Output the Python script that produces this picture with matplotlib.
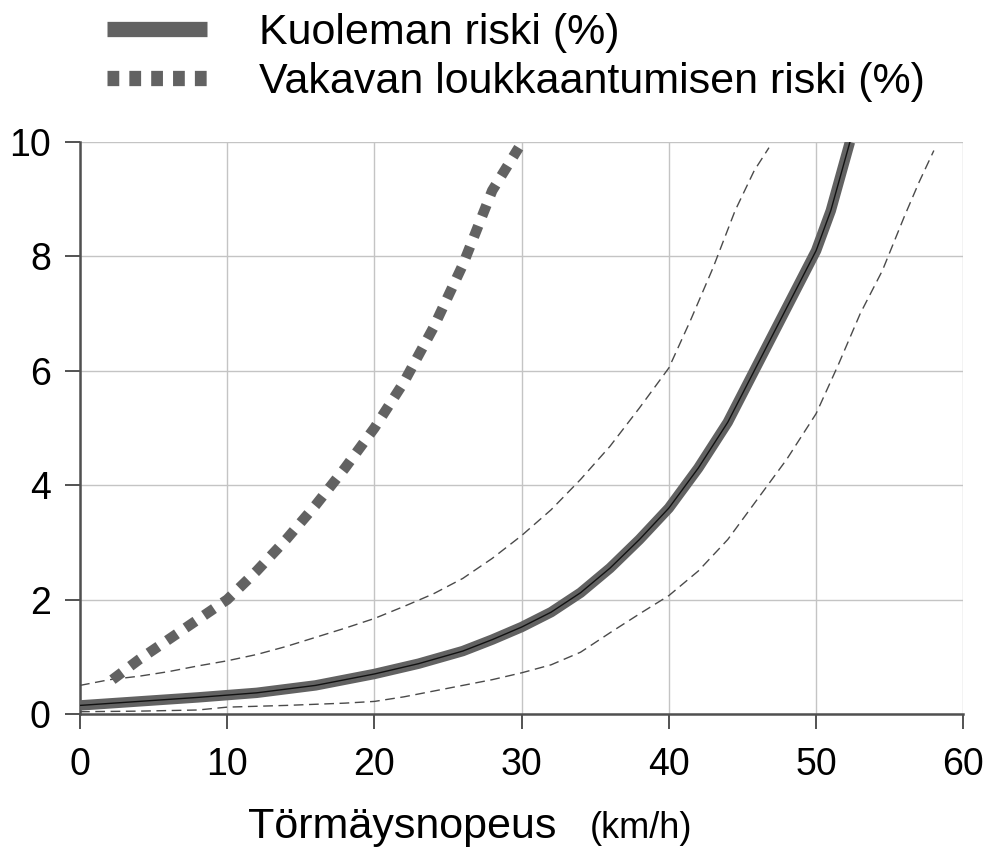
import matplotlib
matplotlib.use("Agg")
import matplotlib.pyplot as plt
from matplotlib.lines import Line2D

plt.rcParams["font.family"] = ["Liberation Sans", "DejaVu Sans"]

# Törmäysnopeus (km/h) ja riskit (%)
death_x = [0, 4, 8, 12, 16, 20, 23, 26, 28, 30, 32, 34, 36, 38, 40, 42, 44, 46, 48, 49, 50, 51, 52.3]
death_y = [0.15, 0.22, 0.29, 0.37, 0.5, 0.7, 0.88, 1.1, 1.3, 1.52, 1.78, 2.12, 2.55, 3.05, 3.6,
           4.3, 5.1, 6.1, 7.1, 7.6, 8.1, 8.8, 10.0]

death_hi_x = [0, 2, 4, 6, 8, 10, 12, 14, 16, 18, 20, 22, 24, 26, 28, 30, 32, 34, 36, 38, 40,
              41.5, 43, 44.5, 45.8, 46.8]
death_hi_y = [0.5, 0.6, 0.66, 0.74, 0.84, 0.93, 1.04, 1.18, 1.34, 1.5, 1.67, 1.88, 2.1, 2.37,
              2.72, 3.12, 3.57, 4.1, 4.68, 5.35, 6.05, 6.9, 7.8, 8.8, 9.5, 9.9]

death_lo_x = [0, 4, 8, 10, 14, 18, 20, 22, 24, 26, 28, 30, 32, 34, 36, 38, 40, 42, 44, 46, 48,
              50, 51.5, 53, 54.5, 56, 57, 58]
death_lo_y = [0.04, 0.05, 0.07, 0.12, 0.15, 0.19, 0.22, 0.3, 0.4, 0.5, 0.6, 0.72, 0.86, 1.08,
              1.42, 1.75, 2.07, 2.5, 3.05, 3.75, 4.45, 5.25, 6.1, 7.0, 7.75, 8.7, 9.3, 9.85]

injury_x = [2.2, 4, 6, 8, 10, 12, 14, 16, 18, 20, 22, 24, 26, 28, 29.8]
injury_y = [0.6, 0.95, 1.3, 1.65, 2.0, 2.5, 3.05, 3.65, 4.3, 5.0, 5.8, 6.75, 7.85, 9.15, 9.9]

x_ticks = [0, 10, 20, 30, 40, 50, 60]
y_ticks = [0, 2, 4, 6, 8, 10]
labels = ["Kuoleman riski (%)", "Vakavan loukkaantumisen riski (%)"]

gray = "#626262"

fig = plt.figure(figsize=(9.88, 8.5), dpi=100)
ax = fig.add_axes([0.081, 0.16, 0.894, 0.673])

# luottamusvälit ohuina katkoviivoina
for xs, ys in ((death_hi_x, death_hi_y), (death_lo_x, death_lo_y)):
    ax.plot(xs, ys, color="#4a4a4a", linewidth=1.0, dashes=(7, 4), zorder=3)

ax.plot(death_x, death_y, color=gray, linewidth=7.5, solid_capstyle="butt",
        solid_joinstyle="round", zorder=4)
ax.plot(death_x, death_y, color="#111111", linewidth=1.0, zorder=5)
ax.plot(injury_x, injury_y, color=gray, linewidth=7.5, dashes=(1.15, 1.0),
        dash_capstyle="butt", zorder=4)

ax.set_xlim(0, 60)
ax.set_ylim(0, 10)
ax.set_xticks(x_ticks)
ax.set_yticks(y_ticks)
ax.tick_params(axis="both", labelsize=27, length=11, width=1.3, color="#444444")
ax.tick_params(axis="x", pad=13)
ax.tick_params(axis="y", pad=10)
ax.grid(True, color="#c4c4c4", linewidth=1.0)
ax.set_axisbelow(True)
for side in ("top", "right"):
    ax.spines[side].set_visible(False)
for side in ("left", "bottom"):
    ax.spines[side].set_color("#505050")
    ax.spines[side].set_linewidth(1.8)

fig.text(248 / 988, 1 - 838 / 850, "Törmäysnopeus", fontsize=31, va="baseline")
fig.text(590 / 988, 1 - 838 / 850, "(km/h)", fontsize=26, va="baseline")

handles = [
    Line2D([], [], color=gray, linewidth=11, solid_capstyle="butt"),
    Line2D([], [], color=gray, linewidth=11, dashes=(0.77, 0.66), dash_capstyle="butt"),
]
fig.legend(handles, labels, loc="upper left", bbox_to_anchor=(107 / 988, 1 - 13 / 850),
           frameon=False, fontsize=31, handlelength=2.33, handletextpad=1.2,
           labelspacing=0.22, borderpad=0, borderaxespad=0)

fig.savefig("out.png", dpi=100)
